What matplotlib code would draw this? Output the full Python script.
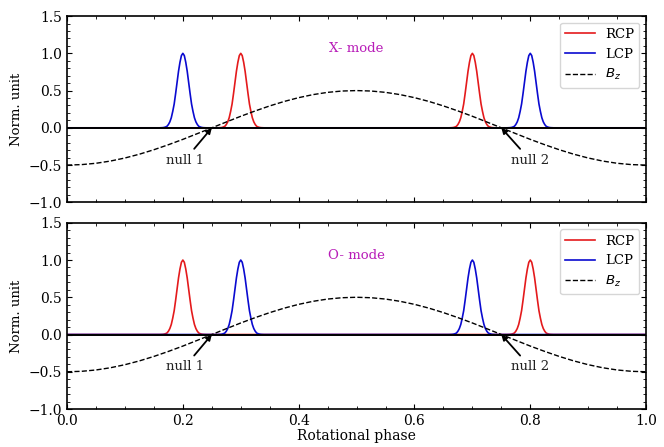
import numpy as np
import matplotlib
matplotlib.use("Agg")
import matplotlib.pyplot as plt

plt.rcParams['font.family'] = ['DejaVu Serif']
plt.rcParams['xtick.direction'] = 'in'
plt.rcParams['ytick.direction'] = 'in'
plt.rcParams['xtick.top'] = True
plt.rcParams['ytick.right'] = True

# rotational phase grid for the B_z curve (step 0.025)
phase = [i * 0.025 for i in range(41)]
bz = [-0.500, -0.494, -0.476, -0.446, -0.405, -0.354, -0.294, -0.227, -0.155, -0.078,
      0.000, 0.078, 0.155, 0.227, 0.294, 0.354, 0.405, 0.446, 0.476, 0.494,
      0.500, 0.494, 0.476, 0.446, 0.405, 0.354, 0.294, 0.227, 0.155, 0.078,
      0.000, -0.078, -0.155, -0.227, -0.294, -0.354, -0.405, -0.446, -0.476, -0.494,
      -0.500]

# one emission peak (offset from centre, height)
peak_offset = [0.0, 0.0025, 0.005, 0.0075, 0.01, 0.0125, 0.015, 0.0175, 0.02,
               0.0225, 0.025, 0.0275, 0.03, 0.0325, 0.035, 0.0375, 0.04]
peak_height = [1.0, 0.97, 0.88, 0.76, 0.61, 0.46, 0.32, 0.22, 0.135,
               0.08, 0.044, 0.02, 0.011, 0.005, 0.002, 0.001, 0.0]

# peak centres per panel
modes = ["X- mode", "O- mode"]
rcp_centres = [[0.3, 0.7], [0.2, 0.8]]
lcp_centres = [[0.2, 0.8], [0.3, 0.7]]
nulls = [0.25, 0.75]
null_labels = ["null 1", "null 2"]
null_text_x = [0.203, 0.80]


def peak_curve(centres):
    off = np.array(peak_offset)
    h = np.array(peak_height)
    xs = np.concatenate([-off[::-1], off[1:]])
    ys = np.concatenate([h[::-1], h[1:]])
    x = [0.0]
    y = [0.0]
    for c in centres:
        x += list(c + xs)
        y += list(ys)
    x.append(1.0)
    y.append(0.0)
    return x, y


fig, axes = plt.subplots(2, 1, figsize=(6.64, 4.47), dpi=100, sharex=True)
fig.subplots_adjust(left=0.101, right=0.973, top=0.964, bottom=0.085, hspace=0.11)

for k, ax in enumerate(axes):
    xr, yr = peak_curve(rcp_centres[k])
    xl, yl = peak_curve(lcp_centres[k])
    ax.plot(xr, yr, color='#e41a1c', lw=1.2, label='RCP')
    ax.plot(xl, yl, color='#0a0ad0', lw=1.2, label='LCP')
    ax.plot(phase, bz, 'k--', lw=1.0, label='$B_z$')
    ax.axhline(0, color='k', lw=1.4)
    ax.set_xlim(0, 1)
    ax.set_ylim(-1.0, 1.5)
    ax.set_yticks([-1.0, -0.5, 0.0, 0.5, 1.0, 1.5])
    ax.yaxis.set_minor_locator(matplotlib.ticker.MultipleLocator(0.1))
    ax.xaxis.set_minor_locator(matplotlib.ticker.MultipleLocator(0.05))
    ax.tick_params(which='both', direction='in', top=True, right=True, labelsize=10)
    for s in ax.spines.values():
        s.set_linewidth(1.2)
    ax.set_ylabel('Norm. unit', fontsize=9.5)
    ax.text(0.5, 1.06, modes[k], color='#b81cb8', fontsize=9.5, ha='center', va='center')
    for n, lab, tx in zip(nulls, null_labels, null_text_x):
        ax.annotate(lab, xy=(n, 0), xytext=(tx, -0.435), fontsize=9.5, color='#222222',
                    ha='center', va='center',
                    arrowprops=dict(arrowstyle='-|>', color='k', lw=1.3,
                                    mutation_scale=8, shrinkA=2, shrinkB=0))
    ax.legend(loc='upper right', fontsize=9.5, handlelength=2.2)

axes[1].set_xlabel('Rotational phase', fontsize=10, labelpad=1)
axes[1].set_xticks([0.0, 0.2, 0.4, 0.6, 0.8, 1.0])

fig.savefig('out.png', dpi=100)
